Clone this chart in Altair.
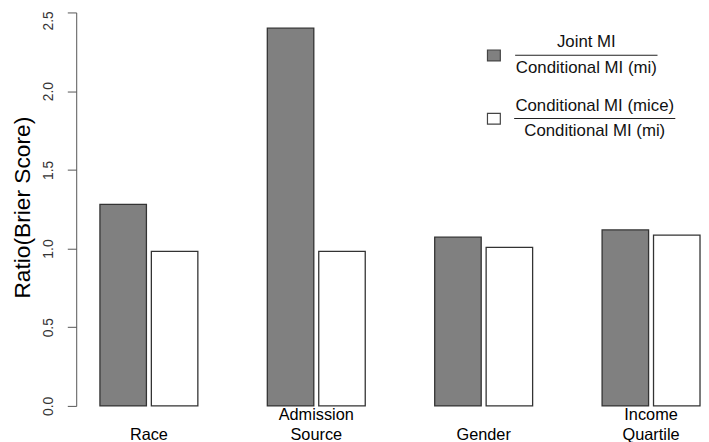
import altair as alt
import pandas as pd

# ---- data ----
categories = ["Race", "Admission Source", "Gender", "Income Quartile"]
joint_ratio = [1.28, 2.40, 1.072, 1.118]
mice_ratio = [0.982, 0.982, 1.007, 1.085]
series = ["Joint MI / Conditional MI (mi)", "Conditional MI (mice) / Conditional MI (mi)"]
series_colors = ["#808080", "#ffffff"]
y_ticks = [0.0, 0.5, 1.0, 1.5, 2.0, 2.5]
legend_numerators = ["Joint MI", "Conditional MI (mice)"]
legend_denominators = ["Conditional MI (mi)", "Conditional MI (mi)"]
y_title = "Ratio(Brier Score)"

rows = []
for c, a, b in zip(categories, joint_ratio, mice_ratio):
    rows.append({"category": c, "series": series[0], "value": a})
    rows.append({"category": c, "series": series[1], "value": b})
df = pd.DataFrame(rows)

FONT = "Liberation Sans"
W, H = 632, 398

bars = alt.Chart(df).mark_bar(stroke="#333333", strokeWidth=1.3).encode(
    x=alt.X(
        "category:N",
        sort=categories,
        scale=alt.Scale(paddingInner=0.415, paddingOuter=0.0738, align=0.96),
        axis=alt.Axis(
            title=None, domain=False, ticks=False, labelAngle=0,
            labelFont=FONT, labelFontSize=16.5, labelColor="#000000",
            labelLineHeight=20, labelBaseline="alphabetic", labelPadding=13.5,
            labelExpr="indexof(datum.label, ' ') < 0 ? ['', datum.label] : split(datum.label, ' ')",
            labelOverlap=False,
        ),
    ),
    xOffset=alt.XOffset("series:N", sort=series,
                        scale=alt.Scale(paddingInner=0.096, paddingOuter=0)),
    y=alt.Y(
        "value:Q",
        scale=alt.Scale(domain=[0, 2.5], nice=False, zero=True),
        axis=alt.Axis(
            values=y_ticks, format=".1f", title=y_title, grid=False,
            domainColor="#555555", tickColor="#555555", tickSize=9,
            labelPadding=12, labelAngle=270, labelAlign="center",
            labelBaseline="bottom", labelFont=FONT, labelFontSize=14,
            labelColor="#333333",
            labelOffset={"condition": {"test": "datum.value >= 2.5", "value": 8}, "value": 0},
            titleFont=FONT, titleFontSize=23, titleFontWeight="normal",
            titleColor="#000000", titleX=-47, titleY=H / 2 - 2, titleAngle=270,
            titleAlign="center", titleBaseline="alphabetic",
        ),
    ),
    color=alt.Color("series:N", scale=alt.Scale(domain=series, range=series_colors), legend=None),
)

one = alt.Data(values=[{"k": 0}])

def text_layer(txt, x, y):
    return alt.Chart(one).mark_text(
        font=FONT, fontSize=17, color="#111111", align="center", baseline="alphabetic"
    ).encode(x=alt.value(x), y=alt.value(y), text=alt.value(txt))

def rule_layer(x1, x2, y):
    return alt.Chart(one).mark_rule(color="#222222", strokeWidth=1.2).encode(
        x=alt.value(x1), x2=alt.value(x2), y=alt.value(y))

def swatch_layer(color, y1, y2):
    return alt.Chart(one).mark_rect(fill=color, stroke="#444444", strokeWidth=1.2).encode(
        x=alt.value(416), x2=alt.value(429), y=alt.value(y1), y2=alt.value(y2))

legend_layers = [
    swatch_layer(series_colors[0], 38, 49),
    rule_layer(444, 588, 43.3),
    text_layer(legend_numerators[0], 516, 35),
    text_layer(legend_denominators[0], 516, 61),
    swatch_layer(series_colors[1], 102, 113),
    rule_layer(443, 606, 107.3),
    text_layer(legend_numerators[1], 524.5, 99.5),
    text_layer(legend_denominators[1], 524.5, 125),
]

chart = alt.layer(bars, *legend_layers).properties(
    width=W, height=H,
    autosize=alt.AutoSizeParams(type="none"),
    padding={"left": 69, "top": 2, "right": 0, "bottom": 34},
).configure_view(stroke=None)

chart.save("out.html", embed_options={"renderer": "svg", "actions": False})
